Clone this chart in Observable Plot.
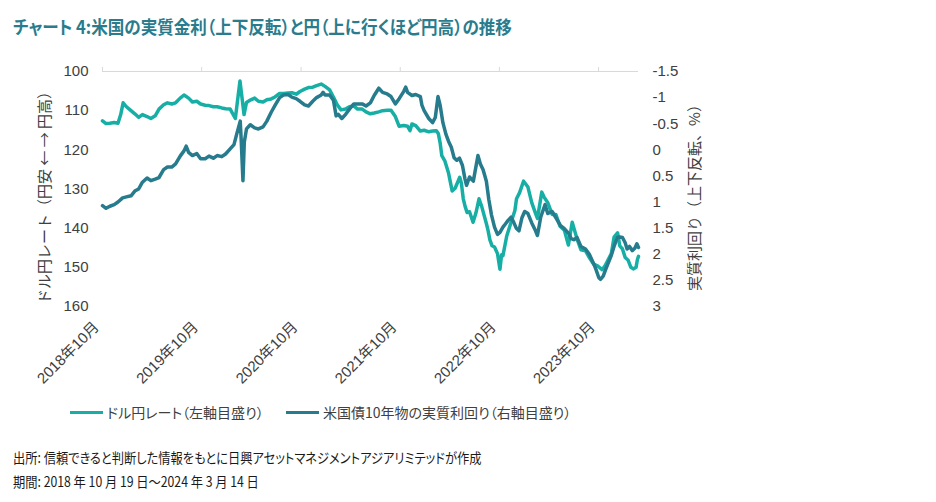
<!DOCTYPE html>
<html><head><meta charset="utf-8">
<script src="https://cdn.jsdelivr.net/npm/d3@7"></script>
<script src="https://cdn.jsdelivr.net/npm/@observablehq/plot@0.6"></script>
<style>
body{margin:0;background:#fff;}
#wrap{position:relative;width:936px;height:502px;overflow:hidden;font-family:"Noto Sans CJK JP",sans-serif;}
#title{position:absolute;left:13px;top:12px;font-size:18px;font-weight:bold;color:#2a7c8d;white-space:nowrap;font-feature-settings:"palt";line-height:28px;transform:scaleX(0.92);transform-origin:left center;}
#chart{position:absolute;left:0;top:50px;}
.leg{position:absolute;top:402px;height:20px;display:flex;align-items:center;font-size:14px;color:#404040;white-space:nowrap;font-feature-settings:"palt";}
.sw{width:33px;height:3px;margin-right:4px;}
#caption{position:absolute;left:13px;top:445px;font-size:14px;color:#1a1a1a;line-height:24px;white-space:nowrap;font-feature-settings:"palt";transform:scaleX(0.875);transform-origin:left top;}
</style></head>
<body>
<div id="wrap">
  <div id="title"></div>
  <div id="chart"></div>
  <div class="leg" id="leg1" style="left:70px"></div>
  <div class="leg" id="leg2" style="left:286px"></div>
  <div id="caption"></div>
</div>
<script>
const titleText = "チャート 4:米国の実質金利（上下反転）と円（上に行くほど円高）の推移";
const leftTitle = "ドル円レート（円安 ← → 円高）";
const rightTitle = "実質利回り（上下反転、%）";
const seriesNames = ["ドル円レート（左軸目盛り）", "米国債10年物の実質利回り（右軸目盛り）"];
const seriesColors = ["#17afa5", "#267b8d"];
const captionLines = ["出所: 信頼できると判断した情報をもとに日興アセットマネジメントアジアリミテッドが作成", "期間: 2018 年 10 月 19 日～2024 年 3 月 14 日"];

const xTickDates = ["2018-10-19","2019-10-19","2020-10-19","2021-10-19","2022-10-19","2023-10-19"];
const xTickLabels = ["2018年10月","2019年10月","2020年10月","2021年10月","2022年10月","2023年10月"];
const leftTicks = [100,110,120,130,140,150,160];
const rightTicks = [-1.5,-1,-0.5,0,0.5,1,1.5,2,2.5,3];
const rightTickLabels = ["-1.5","-1","-0.5","0","0.5","1","1.5","2","2.5","3"];

// USD/JPY (left axis)
const usdDates = ["2018-10-19","2018-11-01","2018-11-15","2018-12-01","2018-12-15","2018-12-25","2019-01-03","2019-01-15","2019-02-01","2019-02-15","2019-03-01","2019-03-15","2019-04-01","2019-04-15","2019-05-01","2019-05-15","2019-06-01","2019-06-15","2019-07-01","2019-07-15","2019-08-01","2019-08-15","2019-09-01","2019-09-15","2019-10-01","2019-10-15","2019-11-01","2019-11-15","2019-12-01","2019-12-15","2020-01-01","2020-01-15","2020-02-01","2020-02-20","2020-03-08","2020-03-23","2020-04-01","2020-04-15","2020-05-01","2020-05-15","2020-06-01","2020-06-15","2020-07-01","2020-07-15","2020-08-01","2020-08-15","2020-09-01","2020-09-15","2020-10-01","2020-10-15","2020-11-01","2020-11-15","2020-12-01","2020-12-15","2021-01-01","2021-01-15","2021-02-01","2021-02-15","2021-03-01","2021-03-15","2021-04-01","2021-04-15","2021-05-01","2021-05-15","2021-06-01","2021-06-15","2021-07-01","2021-07-15","2021-08-01","2021-08-15","2021-09-01","2021-09-15","2021-10-01","2021-10-15","2021-11-01","2021-11-15","2021-11-24","2021-12-01","2021-12-15","2022-01-01","2022-01-15","2022-02-01","2022-02-15","2022-03-01","2022-03-08","2022-03-15","2022-03-21","2022-04-01","2022-04-15","2022-04-28","2022-05-09","2022-05-26","2022-06-01","2022-06-08","2022-06-15","2022-06-22","2022-07-01","2022-07-14","2022-07-25","2022-08-05","2022-08-15","2022-09-01","2022-09-07","2022-09-14","2022-09-22","2022-10-01","2022-10-12","2022-10-21","2022-10-27","2022-11-01","2022-11-15","2022-12-01","2022-12-15","2022-12-21","2023-01-01","2023-01-16","2023-02-01","2023-02-15","2023-03-01","2023-03-08","2023-03-24","2023-04-01","2023-04-15","2023-05-01","2023-05-15","2023-05-30","2023-06-15","2023-06-30","2023-07-14","2023-08-01","2023-08-15","2023-09-01","2023-09-15","2023-10-01","2023-10-15","2023-11-01","2023-11-13","2023-11-25","2023-12-05","2023-12-15","2023-12-28","2024-01-05","2024-01-15","2024-01-25","2024-02-05","2024-02-15","2024-02-25","2024-03-05","2024-03-10","2024-03-14"];
const usdValues = [112.6,113.3,113.2,113.0,113.2,111.0,108.0,109.0,110.0,110.8,111.7,111.0,111.5,112.0,111.3,109.6,108.5,108.0,108.3,108.0,106.8,106.0,106.8,107.8,107.6,108.3,108.6,108.7,109.0,109.0,109.3,109.5,109.6,112.0,102.4,111.0,107.9,107.3,106.8,107.6,107.8,107.2,107.0,106.5,105.6,105.6,105.5,105.4,105.8,105.1,104.5,104.1,104.0,103.6,103.2,103.8,104.7,106.5,108.5,109.8,109.6,109.0,108.8,109.6,109.6,110.3,110.8,110.6,110.3,110.0,109.9,109.9,111.5,114.0,113.8,114.0,115.1,113.4,113.8,115.2,115.0,115.4,115.2,115.1,115.8,118.3,121.5,122.8,126.0,130.5,129.8,127.0,128.5,132.5,134.5,136.0,135.8,138.5,136.0,132.5,134.5,138.8,140.5,143.0,144.5,144.8,146.5,150.5,146.8,147.0,142.0,138.5,135.5,132.5,131.0,128.0,129.5,133.5,136.2,137.5,130.8,132.0,133.5,136.5,136.5,139.5,140.5,144.3,138.5,142.8,145.5,145.8,147.5,149.2,149.6,150.6,149.5,147.8,146.5,142.3,141.2,144.5,145.3,147.5,148.2,150.0,150.4,150.0,148.0,147.2];

// US 10y real yield, % (right axis, inverted)
const ryDates = ["2018-10-19","2018-11-01","2018-11-15","2018-12-01","2018-12-15","2019-01-01","2019-01-15","2019-02-01","2019-02-15","2019-03-01","2019-03-15","2019-04-01","2019-04-15","2019-05-01","2019-05-15","2019-06-01","2019-06-15","2019-07-01","2019-07-15","2019-08-01","2019-08-15","2019-08-23","2019-09-01","2019-09-15","2019-10-01","2019-10-15","2019-11-01","2019-11-15","2019-12-01","2019-12-15","2020-01-01","2020-01-15","2020-02-01","2020-02-15","2020-02-25","2020-03-09","2020-03-12","2020-03-19","2020-03-24","2020-04-01","2020-04-15","2020-05-01","2020-05-15","2020-06-01","2020-06-15","2020-07-01","2020-07-15","2020-08-01","2020-08-15","2020-09-01","2020-09-15","2020-10-01","2020-10-15","2020-11-01","2020-11-15","2020-12-01","2020-12-15","2021-01-01","2021-01-08","2021-01-15","2021-02-01","2021-02-15","2021-02-25","2021-03-05","2021-03-18","2021-04-01","2021-04-15","2021-05-01","2021-05-15","2021-06-01","2021-06-15","2021-07-01","2021-07-15","2021-08-01","2021-08-15","2021-09-01","2021-09-15","2021-10-01","2021-10-15","2021-11-01","2021-11-08","2021-11-15","2021-12-01","2021-12-15","2022-01-01","2022-01-07","2022-01-15","2022-02-01","2022-02-15","2022-02-25","2022-03-07","2022-03-15","2022-03-25","2022-04-05","2022-04-15","2022-04-25","2022-05-05","2022-05-15","2022-05-25","2022-06-05","2022-06-14","2022-06-20","2022-07-01","2022-07-15","2022-08-01","2022-08-10","2022-08-20","2022-09-01","2022-09-10","2022-09-20","2022-10-01","2022-10-12","2022-10-21","2022-11-01","2022-11-10","2022-11-20","2022-12-01","2022-12-10","2022-12-20","2022-12-30","2023-01-10","2023-01-20","2023-02-01","2023-02-15","2023-03-01","2023-03-08","2023-03-20","2023-04-05","2023-04-15","2023-05-01","2023-05-15","2023-06-01","2023-06-15","2023-07-01","2023-07-10","2023-07-20","2023-08-01","2023-08-15","2023-09-01","2023-09-15","2023-10-01","2023-10-10","2023-10-20","2023-10-26","2023-11-05","2023-11-15","2023-11-25","2023-12-05","2023-12-15","2023-12-27","2024-01-05","2024-01-15","2024-01-25","2024-02-01","2024-02-10","2024-02-20","2024-03-01","2024-03-08","2024-03-14"];
const ryValues = [1.07,1.12,1.08,1.05,1.00,0.92,0.90,0.88,0.79,0.75,0.62,0.54,0.59,0.56,0.53,0.38,0.33,0.33,0.27,0.12,0.02,-0.07,0.05,0.11,0.07,0.17,0.17,0.12,0.16,0.11,0.13,0.08,-0.02,-0.10,-0.30,-0.55,-0.25,0.59,-0.15,-0.40,-0.48,-0.42,-0.40,-0.44,-0.55,-0.72,-0.85,-1.00,-1.05,-1.06,-1.01,-0.98,-0.93,-0.86,-0.84,-0.93,-1.00,-1.05,-1.10,-1.05,-1.05,-0.95,-0.65,-0.68,-0.60,-0.68,-0.78,-0.88,-0.88,-0.88,-0.84,-0.90,-1.04,-1.18,-1.10,-1.07,-1.02,-0.88,-0.98,-1.12,-1.20,-1.10,-1.04,-1.06,-1.02,-0.85,-0.75,-0.60,-0.52,-0.62,-1.02,-0.85,-0.52,-0.30,-0.16,-0.05,0.15,0.20,0.16,0.30,0.55,0.68,0.52,0.60,0.11,0.27,0.38,0.60,0.95,1.25,1.48,1.62,1.58,1.48,1.42,1.35,1.29,1.38,1.50,1.55,1.30,1.18,1.22,1.40,1.55,1.64,1.29,1.05,1.22,1.18,1.30,1.45,1.51,1.60,1.70,1.72,1.68,1.85,1.90,2.00,2.18,2.30,2.45,2.48,2.42,2.28,2.15,2.02,1.85,1.68,1.67,1.68,1.78,1.90,1.85,1.93,1.88,1.80,1.87];

// the right axis is a linear re-labelling of the left one: -1.5 ↔ 100, 3 ↔ 160
const toLeft = r => 100 + (r + 1.5) / 0.075;
const parse = s => new Date(s + "T00:00:00Z");

const usd = usdDates.map((d, i) => ({date: parse(d), value: usdValues[i]}));
const ry = ryDates.map((d, i) => ({date: parse(d), value: ryValues[i]}));
const xTicks = xTickDates.map(parse);
const xLabel = d => xTickLabels[xTicks.findIndex(t => +t === +d)];
const rightPos = rightTicks.map(toLeft);
const rLabel = v => rightTickLabels[rightPos.findIndex(p => Math.abs(p - v) < 1e-6)];

const chart = Plot.plot({
  width: 936,
  height: 345,
  marginTop: 21,
  marginBottom: 89,
  marginLeft: 102,
  marginRight: 298,
  style: {fontFamily: '"Liberation Sans","Noto Sans CJK JP",sans-serif', fontSize: "15px", color: "#404040", background: "#fff", overflow: "visible"},
  x: {type: "utc", domain: [parse("2018-10-19"), parse("2024-03-14")], label: null},
  y: {domain: [100, 160], reverse: true, label: null},
  marks: [
    Plot.ruleY([100], {stroke: "#d9d9d9", strokeWidth: 1}),
    Plot.axisX({anchor: "top", ticks: xTicks, tickSize: 5, stroke: "#d9d9d9", tickFormat: () => "", label: null}),
    Plot.axisX({anchor: "bottom", ticks: xTicks, tickSize: 0, tickPadding: 18, tickRotate: -45, dx: -6, tickFormat: xLabel, label: null, fontSize: 15}),
    Plot.axisY({anchor: "left", ticks: leftTicks, tickSize: 0, tickPadding: 14, tickFormat: d => String(d), label: null, fontSize: 15}),
    Plot.axisY({anchor: "right", ticks: rightPos, tickSize: 0, tickPadding: 14, tickFormat: rLabel, label: null, fontSize: 15}),
    Plot.line(usd, {x: "date", y: "value", stroke: seriesColors[0], strokeWidth: 3.5}),
    Plot.line(ry, {x: "date", y: d => toLeft(d.value), stroke: seriesColors[1], strokeWidth: 3.5}),
    Plot.text([leftTitle], {frameAnchor: "left", dx: -57, dy: 5, rotate: -90, textAnchor: "middle", text: d => d, fontSize: 15, fill: "#404040", fontFamily: "Noto Sans CJK JP"}),
    Plot.text([rightTitle], {frameAnchor: "right", dx: 57, dy: 5, rotate: -90, textAnchor: "middle", text: d => d, fontSize: 15, fill: "#404040", fontFamily: "Noto Sans CJK JP"})
  ]
});
document.getElementById("chart").appendChild(chart);

document.getElementById("title").textContent = titleText;
[["leg1", 0], ["leg2", 1]].forEach(([id, i]) => {
  const el = document.getElementById(id);
  const sw = document.createElement("div");
  sw.className = "sw";
  sw.style.background = seriesColors[i];
  const tx = document.createElement("span");
  tx.textContent = seriesNames[i];
  el.appendChild(sw);
  el.appendChild(tx);
});
document.getElementById("caption").innerHTML = captionLines.map(s => `<div>${s}</div>`).join("");
</script>
</body></html>
